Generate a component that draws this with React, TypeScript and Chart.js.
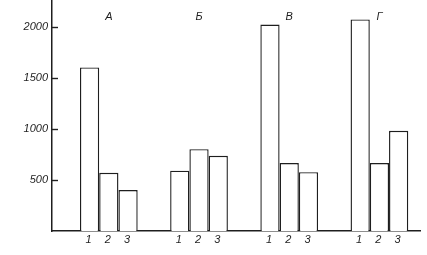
import React, { useEffect, useRef } from "react";
import { Chart, registerables } from "chart.js";

Chart.register(...registerables);

const groups = ["А", "Б", "В", "Г"];
const seriesLabels = ["1", "2", "3"];
const series1 = [1600, 590, 2020, 2070];
const series2 = [570, 800, 665, 665];
const series3 = [400, 735, 575, 980];
const yTicks = [500, 1000, 1500, 2000];

const INK = "#1e1e1e";
const FONT = "italic 11px 'Liberation Sans', Arial, sans-serif";

export default function App() {
  const ref = useRef<HTMLCanvasElement | null>(null);

  useEffect(() => {
    if (!ref.current) return;
    const allSeries = [series1, series2, series3];

    const annotate = {
      id: "annotate",
      afterDraw(chart: any) {
        const ctx = chart.ctx;
        const ys = chart.scales.y;
        const area = chart.chartArea;
        ctx.save();
        ctx.strokeStyle = INK;
        ctx.lineWidth = 1.4;
        yTicks.forEach((v) => {
          const py = Math.round(ys.getPixelForValue(v)) + 0.5;
          ctx.beginPath();
          ctx.moveTo(area.left, py);
          ctx.lineTo(area.left + 6, py);
          ctx.stroke();
        });
        ctx.fillStyle = INK;
        ctx.font = FONT;
        ctx.textAlign = "center";
        ctx.textBaseline = "middle";
        chart.data.datasets.forEach((ds: any, di: number) => {
          const meta = chart.getDatasetMeta(di);
          meta.data.forEach((bar: any) => {
            ctx.fillText(seriesLabels[di], bar.x - 1, area.bottom + 9);
          });
        });
        const xs = chart.scales.x;
        groups.forEach((g, i) => {
          ctx.fillText(g, xs.getPixelForValue(i), 17);
        });
        ctx.restore();
      },
    };

    const chart = new Chart(ref.current, {
      type: "bar",
      data: {
        datasets: allSeries.map((s, si) => ({
          label: seriesLabels[si],
          data: s.map((v, i) => ({ x: i, y: v })),
          backgroundColor: "#ffffff",
          borderColor: INK,
          borderWidth: 1.4,
          borderSkipped: "start",
          categoryPercentage: 0.64,
          barPercentage: 1.0,
        })),
      },
      options: {
        animation: false,
        responsive: false,
        maintainAspectRatio: false,
        layout: { padding: { top: 1, right: 7, left: 0, bottom: 0 } },
        plugins: {
          legend: { display: false },
          tooltip: { enabled: false },
        },
        scales: {
          x: {
            type: "linear",
            offset: false,
            bounds: "data",
            min: -0.63,
            max: 3.45,
            grid: { display: false, drawTicks: false, offset: false },
            ticks: { display: false },
            border: { display: true, color: INK, width: 1.5 },
            afterBuildTicks: (s: any) => {
              s.ticks = groups.map((_, i) => ({ value: i }));
            },
            afterFit: (s: any) => {
              s.height = 24;
              s.paddingLeft = 0;
              s.paddingRight = 0;
            },
          },
          y: {
            min: 0,
            max: 2250,
            grid: { display: false, drawTicks: false },
            border: { display: true, color: INK, width: 1.5 },
            afterBuildTicks: (s: any) => {
              s.ticks = yTicks.map((v) => ({ value: v }));
            },
            ticks: {
              padding: 4,
              color: INK,
              font: { family: "'Liberation Sans', Arial, sans-serif", size: 11, style: "italic" },
              callback: (v: any) => String(v),
            },
            afterFit: (s: any) => {
              s.width = 52;
              s.paddingTop = 0;
              s.paddingBottom = 0;
            },
          },
        },
      },
      plugins: [annotate],
    });
    return () => chart.destroy();
  }, []);

  return (
    <div style={{ position: "fixed", left: 0, top: 0, width: 427, height: 255, background: "#fff" }}>
      <canvas ref={ref} width={427} height={255} style={{ width: 427, height: 255, display: "block" }} />
    </div>
  );
}
